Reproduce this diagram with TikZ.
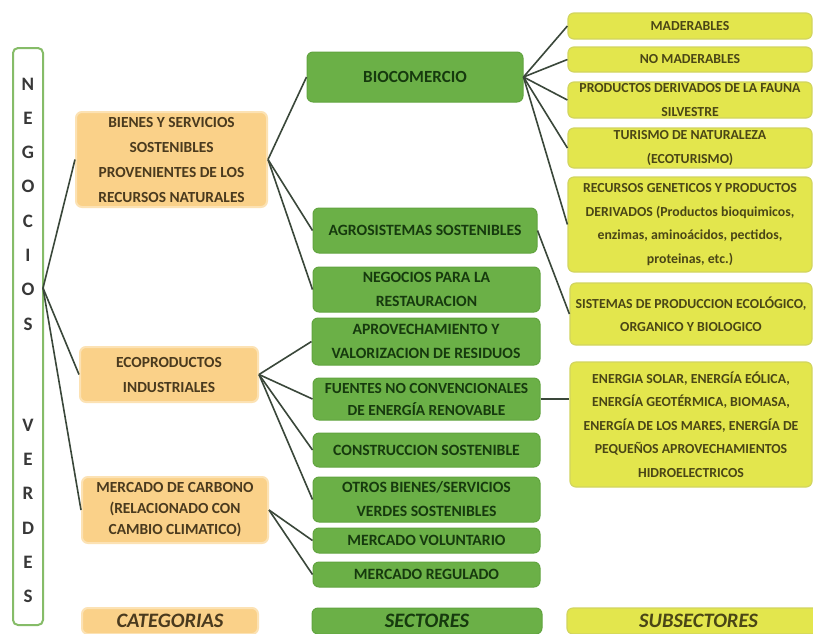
\documentclass[tikz,border=0pt]{standalone}
\usepackage{fontspec}
\setmainfont{Carlito}
\definecolor{orfill}{HTML}{FAD189}
\definecolor{orline}{HTML}{FCE2B4}
\definecolor{ortext}{HTML}{4A3A1E}
\definecolor{grfill}{HTML}{6BB047}
\definecolor{grline}{HTML}{61A43F}
\definecolor{grtext}{HTML}{163A0E}
\definecolor{yefill}{HTML}{E3E64D}
\definecolor{yeline}{HTML}{D2D55E}
\definecolor{yetext}{HTML}{4A4616}
\definecolor{conn}{HTML}{3A473A}
\definecolor{frameline}{HTML}{86BC68}
\definecolor{lettercol}{HTML}{383838}
\begin{document}
\begin{tikzpicture}[x=1pt,y=-1pt,
  base/.style={rounded corners=6pt, inner sep=0pt, align=center},
  cat/.style={base, fill=orfill, draw=orline, line width=2pt, text=ortext,
    font=\fontsize{15.4}{25}\selectfont\bfseries},
  sec/.style={base, fill=grfill, draw=grline, line width=1pt, text=grtext,
    font=\fontsize{15.7}{24}\selectfont\bfseries},
  sub/.style={base, fill=yefill, draw=yeline, line width=1.2pt, text=yetext,
    font=\fontsize{13.8}{23.5}\selectfont\bfseries},
  lbl/.style={font=\fontsize{20.5}{22}\selectfont\bfseries\itshape},
  link/.style={draw=conn, line width=1.6pt},
  letters/.style={inner sep=0pt, align=center, text=lettercol,
    font=\fontsize{19}{34.3}\selectfont\bfseries}]
\clip (0,0) rectangle (813,633);
\fill[white] (0,0) rectangle (813,633);

% frame
\node[draw=frameline, line width=2pt, fill=white, rounded corners=5pt,
  minimum width=30pt, minimum height=577pt, inner sep=0pt] (frame) at (28,336.5) {};
\node[letters] (neg) at (28,204) {N\\E\\G\\O\\C\\I\\O\\S};
\node[letters] (ver) at (28,511) {V\\E\\R\\D\\E\\S};
\coordinate (fj) at (43,288);

% categories
\node[cat, minimum width=191pt, minimum height=95pt] (bienes) at (171.5,159.5)
  {BIENES Y SERVICIOS\\SOSTENIBLES\\PROVENIENTES DE LOS\\RECURSOS NATURALES};
\node[cat, minimum width=178pt, minimum height=55pt] (eco) at (169,374.5)
  {ECOPRODUCTOS\\INDUSTRIALES};
\node[cat, minimum width=186pt, minimum height=66pt,
  font=\fontsize{15.4}{21}\selectfont\bfseries] (carb) at (175,510)
  {MERCADO DE CARBONO\\(RELACIONADO CON\\CAMBIO CLIMATICO)};
\node[cat, lbl, minimum width=176pt, minimum height=26pt] (catl) at (170,621) {CATEGORIAS};

% sectors
\node[sec, minimum width=216pt, minimum height=50pt,
  font=\fontsize{17}{24}\selectfont\bfseries] (bio) at (415,77) {BIOCOMERCIO};
\node[sec, minimum width=224pt, minimum height=45pt] (agro) at (425,230.5) {AGROSISTEMAS SOSTENIBLES};
\node[sec, minimum width=227pt, minimum height=45pt] (negr) at (426.5,289.5) {NEGOCIOS PARA LA\\RESTAURACION};
\node[sec, minimum width=228pt, minimum height=47pt] (aprov) at (426,341.5) {APROVECHAMIENTO Y\\VALORIZACION DE RESIDUOS};
\node[sec, minimum width=227pt, minimum height=42pt,
  font=\fontsize{15.4}{22}\selectfont\bfseries] (fuen) at (426.5,399) {FUENTES NO CONVENCIONALES\\DE ENERGÍA RENOVABLE};
\node[sec, minimum width=227pt, minimum height=34pt] (constr) at (426.5,450) {CONSTRUCCION SOSTENIBLE};
\node[sec, minimum width=227pt, minimum height=45pt] (otros) at (426.5,499.5) {OTROS BIENES/SERVICIOS\\VERDES SOSTENIBLES};
\node[sec, minimum width=227pt, minimum height=25pt] (volu) at (426.5,540.5) {MERCADO VOLUNTARIO};
\node[sec, minimum width=227pt, minimum height=25pt] (regu) at (426.5,574.5) {MERCADO REGULADO};
\node[sec, lbl, minimum width=230pt, minimum height=26pt] (secl) at (427,621) {SECTORES};

% subsectors
\node[sub, minimum width=244pt, minimum height=26pt] (mad) at (690,26) {MADERABLES};
\node[sub, minimum width=244pt, minimum height=25pt] (nomad) at (690,59.5) {NO MADERABLES};
\node[sub, minimum width=244pt, minimum height=36pt] (prod) at (690,100) {PRODUCTOS DERIVADOS DE LA FAUNA\\SILVESTRE};
\node[sub, minimum width=244pt, minimum height=40pt] (tur) at (690,148) {TURISMO DE NATURALEZA\\(ECOTURISMO)};
\node[sub, minimum width=244pt, minimum height=95pt] (rec) at (690,224.5)
  {RECURSOS GENETICOS Y PRODUCTOS\\DERIVADOS (Productos bioquimicos,\\enzimas, aminoácidos, pectidos,\\proteinas, etc.)};
\node[sub, minimum width=242pt, minimum height=62pt] (sis) at (691,314)
  {SISTEMAS DE PRODUCCION ECOLÓGICO,\\ORGANICO Y BIOLOGICO};
\node[sub, minimum width=242pt, minimum height=125pt] (ene) at (691,424.5)
  {ENERGIA SOLAR, ENERGÍA EÓLICA,\\ENERGÍA GEOTÉRMICA, BIOMASA,\\ENERGÍA DE LOS MARES, ENERGÍA DE\\PEQUEÑOS APROVECHAMIENTOS\\HIDROELECTRICOS};
\node[sub, lbl, minimum width=263pt, minimum height=26pt] (subl) at (698.5,621) {SUBSECTORES};

% connectors
\draw[link] (fj) -- (bienes.west);
\draw[link] (fj) -- (eco.west);
\draw[link] (fj) -- (carb.west);
\draw[link] (bienes.east) -- (bio.west);
\draw[link] (bienes.east) -- (agro.west);
\draw[link] (bienes.east) -- (negr.west);
\draw[link] (eco.east) -- (aprov.west);
\draw[link] (eco.east) -- (fuen.west);
\draw[link] (eco.east) -- (constr.west);
\draw[link] (eco.east) -- (otros.west);
\draw[link] (carb.east) -- (volu.west);
\draw[link] (carb.east) -- (regu.west);
\draw[link] (bio.east) -- (mad.west);
\draw[link] (bio.east) -- (nomad.west);
\draw[link] (bio.east) -- (prod.west);
\draw[link] (bio.east) -- (tur.west);
\draw[link] (bio.east) -- (rec.west);
\draw[link] (agro.east) -- (sis.west);
\draw[link] (fuen.east) -- (fuen.east -| ene.west);
\end{tikzpicture}
\end{document}
